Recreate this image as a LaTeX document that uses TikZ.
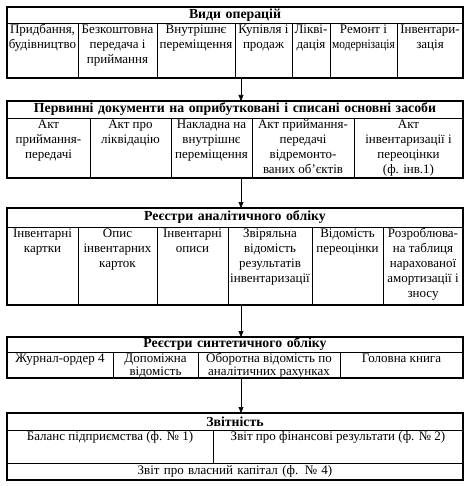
\documentclass[tikz,border=0pt]{standalone}
\usepackage{fontspec}
\setmainfont{Liberation Serif}
\usetikzlibrary{arrows.meta,positioning}

\newcommand{\cellt}[3]{\parbox[t][#2pt][t]{#1pt}{\centering\strut #3}}
\newcommand{\topgap}{\rule{0pt}{10.5pt}}

\begin{document}
\begin{tikzpicture}[
  x=1pt, y=-1pt,
  every node/.style={font=\fontsize{13}{15}\selectfont},
  cell/.style={draw, anchor=north west, inner sep=0pt, outer sep=0pt, line width=0.6pt},
  tight/.style={cell, font=\fontsize{13}{12}\selectfont},
  head/.style={cell, text width=456pt, align=center,
               font=\fontsize{13.8}{15}\selectfont\bfseries},
  frame/.style={draw, line width=1.2pt},
  flow/.style={-{Triangle[width=5pt,length=6pt]}, line width=0.6pt}
]
\useasboundingbox (0,0) rectangle (474,486);
\coordinate (ax) at (241,0);

% Види операцій
\node[head, minimum height=16pt] (ops) at (7,7) {Види операцій};
\node[cell] (ops1) at (ops.south west) {\cellt{71}{55}{Придбання,\\будівництво}};
\node[cell] (ops2) at (ops1.north east) {\cellt{79}{55}{Безкоштовна\\передача і\\приймання}};
\node[cell] (ops3) at (ops2.north east) {\cellt{78}{55}{Внутрішнє\\переміщення}};
\node[cell] (ops4) at (ops3.north east) {\cellt{57}{55}{Купівля і\\продаж}};
\node[cell] (ops5) at (ops4.north east) {\cellt{38}{55}{Лікві-\\дація}};
\node[cell] (ops6) at (ops5.north east) {\cellt{67}{55}{Ремонт і\\\scalebox{0.88}[1]{модернізація}}};
\node[cell] (ops7) at (ops6.north east) {\cellt{66}{55}{Інвентари-\\зація}};
\draw[frame] (ops.north west) rectangle (ops7.south east);

% Первинні документи
\node[head, minimum height=17pt] (doc) at (7,101) {Первинні документи на оприбутковані і списані основні засоби};
\node[cell] (doc1) at (doc.south west) {\cellt{83}{60}{Акт\\приймання-\\передачі}};
\node[cell] (doc2) at (doc1.north east) {\cellt{81}{60}{Акт про\\ліквідацію}};
\node[cell] (doc3) at (doc2.north east) {\cellt{81}{60}{Накладна на\\внутрішнє\\переміщення}};
\node[cell] (doc4) at (doc3.north east) {\cellt{102}{60}{Акт приймання-\\передачі\\відремонто-\\ваних об’єктів}};
\node[cell] (doc5) at (doc4.north east) {\cellt{109}{60}{Акт\\інвентаризації і\\переоцінки\\(ф. інв.1)}};
\draw[frame] (doc.north west) rectangle (doc5.south east);

% Реєстри аналітичного обліку
\node[head, minimum height=19pt] (anl) at (7,208) {Реєстри аналітичного обліку};
\node[cell] (anl1) at (anl.south west) {\cellt{71}{78}{Інвентарні\\картки}};
\node[cell] (anl2) at (anl1.north east) {\cellt{79}{78}{Опис\\інвентарних\\карток}};
\node[cell] (anl3) at (anl2.north east) {\cellt{71}{78}{Інвентарні\\описи}};
\node[cell] (anl4) at (anl3.north east) {\cellt{84}{78}{Звіряльна\\відомість\\результатів\\інвентаризації}};
\node[cell] (anl5) at (anl4.north east) {\cellt{71}{78}{Відомість\\переоцінки}};
\node[cell] (anl6) at (anl5.north east) {\cellt{80}{78}{Розроблюва-\\на таблиця\\нарахованої\\амортизації і\\зносу}};
\draw[frame] (anl.north west) rectangle (anl6.south east);

% Реєстри синтетичного обліку
\node[head, minimum height=15pt] (syn) at (7,337) {Реєстри синтетичного обліку};
\node[tight] (syn1) at (syn.south west) {\cellt{106}{26}{\topgap Журнал-ордер 4}};
\node[tight] (syn2) at (syn1.north east) {\cellt{85}{26}{\topgap Допоміжна\\відомість}};
\node[tight] (syn3) at (syn2.north east) {\cellt{142}{26}{\topgap Оборотна відомість по\\аналітичних рахунках}};
\node[tight] (syn4) at (syn3.north east) {\cellt{123}{26}{\topgap Головна книга}};
\draw[frame] (syn.north west) rectangle (syn4.south east);

% Звітність
\node[head, minimum height=17pt] (rep) at (7,413) {Звітність};
\node[cell] (rep1) at (rep.south west) {\cellt{206}{33}{Баланс підприємства (ф. № 1)}};
\node[cell] (rep2) at (rep1.north east) {\cellt{250}{33}{Звіт про фінансові результати (ф. № 2)}};
\node[cell, text width=456pt, minimum height=17pt, align=center] (rep3) at (rep1.south west) {Звіт про власний капітал (ф. № 4)};
\draw[frame] (rep.north west) rectangle (rep3.south east);

\draw[flow] (ops4.south -| ax) -- (doc.north -| ax);
\draw[flow] (doc3.south -| ax) -- (anl.north -| ax);
\draw[flow] (anl4.south -| ax) -- (syn.north -| ax);
\draw[flow] (syn3.south -| ax) -- (rep.north -| ax);
\end{tikzpicture}
\end{document}
